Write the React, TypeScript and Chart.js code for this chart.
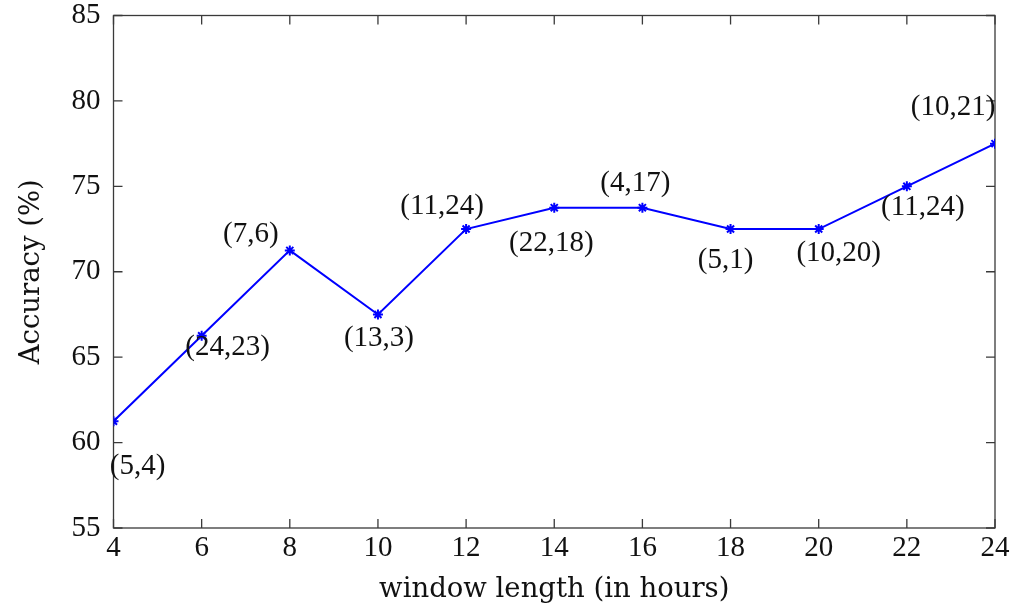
import React, { useEffect, useRef } from "react";
import { Chart, registerables } from "chart.js";

Chart.register(...registerables);

// ---- data ----
const windowHours = [4, 6, 8, 10, 12, 14, 16, 18, 20, 22, 24];
const accuracy = [61.25, 66.25, 71.25, 67.5, 72.5, 73.75, 73.75, 72.5, 72.5, 75, 77.5];
const pointLabels = ["(5,4)", "(24,23)", "(7,6)", "(13,3)", "(11,24)", "(22,18)", "(4,17)", "(5,1)", "(10,20)", "(11,24)", "(10,21)"];
const xTicks = [4, 6, 8, 10, 12, 14, 16, 18, 20, 22, 24];
const yTicks = [55, 60, 65, 70, 75, 80, 85];
const xTitle = "window length (in hours)";
const yTitle = "Accuracy (%)";

// label placement offsets (style, in px relative to each point)
const labelOffsets: [number, number][] = [
  [24, 45], [26, 12], [-39, -16], [1, 24], [-24, -23], [-3, 36],
  [-7, -24], [-5, 31], [20, 24], [16, 21], [-42, -36],
];

const NUM_FONT = "Liberation Serif";
const TITLE_FONT = "DejaVu Serif";
const AXIS_COLOR = "#3a3a3a";

const framePlugin = {
  id: "frameTicks",
  beforeDatasetsDraw(chart: any) {
    const { ctx, chartArea } = chart;
    const { left, right, top, bottom } = chartArea;
    const xs = chart.scales.x;
    const ys = chart.scales.y;
    const tl = 9;
    ctx.save();
    ctx.strokeStyle = AXIS_COLOR;
    ctx.lineWidth = 1.3;
    ctx.beginPath();
    for (const v of xTicks) {
      const px = xs.getPixelForValue(v);
      ctx.moveTo(px, bottom);
      ctx.lineTo(px, bottom - tl);
      ctx.moveTo(px, top);
      ctx.lineTo(px, top + tl);
    }
    for (const v of yTicks) {
      const py = ys.getPixelForValue(v);
      ctx.moveTo(left, py);
      ctx.lineTo(left + tl, py);
      ctx.moveTo(right, py);
      ctx.lineTo(right - tl, py);
    }
    ctx.stroke();
    ctx.strokeRect(left, top, right - left, bottom - top);
    ctx.restore();
  },
};

const labelPlugin = {
  id: "pointLabels",
  afterDatasetsDraw(chart: any) {
    const { ctx } = chart;
    const meta = chart.getDatasetMeta(0);
    ctx.save();
    ctx.font = `29px "${NUM_FONT}"`;
    ctx.fillStyle = "#111";
    ctx.textAlign = "center";
    ctx.textBaseline = "middle";
    meta.data.forEach((el: any, i: number) => {
      const [dx, dy] = labelOffsets[i];
      ctx.fillText(pointLabels[i], el.x + dx, el.y + dy);
    });
    ctx.restore();
  },
};

export default function App() {
  const ref = useRef<HTMLCanvasElement | null>(null);

  useEffect(() => {
    document.body.style.margin = "0";
    const canvas = ref.current;
    if (!canvas) return;
    const padLeft = 0;
    const padBottom = 0;
    const chart = new Chart(canvas, {
      type: "line",
      data: {
        datasets: [
          {
            data: windowHours.map((h, i) => ({ x: h, y: accuracy[i] })),
            borderColor: "#0000ff",
            backgroundColor: "#0000ff",
            borderWidth: 2,
            pointStyle: "star",
            pointRadius: 5,
            pointBorderWidth: 2,
            pointBorderColor: "#0000ff",
            tension: 0,
            fill: false,
          },
        ],
      },
      options: {
        animation: false,
        responsive: true,
        maintainAspectRatio: false,
        layout: { padding: { top: 15.5, right: 17, left: padLeft, bottom: padBottom } },
        plugins: { legend: { display: false }, tooltip: { enabled: false } },
        scales: {
          x: {
            type: "linear",
            min: 4,
            max: 24,
            afterBuildTicks: (s: any) => {
              s.ticks = xTicks.map((v) => ({ value: v }));
            },
            afterFit: (s: any) => {
              s.height = 610 - padBottom - 528;
              s.paddingLeft = 0;
              s.paddingRight = 0;
            },
            grid: { display: false, drawTicks: false },
            border: { display: false },
            ticks: {
              color: "#111",
              padding: 6,
              maxRotation: 0,
              autoSkip: false,
              font: { family: NUM_FONT, size: 29, lineHeight: 1 },
            },
            title: {
              display: true,
              text: xTitle,
              color: "#111",
              padding: { top: 0, bottom: 4 },
              font: { family: TITLE_FONT, size: 27.5, lineHeight: 1.2 },
            },
          },
          y: {
            type: "linear",
            min: 55,
            max: 85,
            afterBuildTicks: (s: any) => {
              s.ticks = yTicks.map((v) => ({ value: v }));
            },
            afterFit: (s: any) => {
              s.width = 113.5 - padLeft;
              s.paddingTop = 0;
              s.paddingBottom = 0;
            },
            grid: { display: false, drawTicks: false },
            border: { display: false },
            ticks: {
              color: "#111",
              padding: 13,
              autoSkip: false,
              font: { family: NUM_FONT, size: 29, lineHeight: 1 },
            },
            title: {
              display: true,
              text: yTitle,
              color: "#111",
              padding: { top: 15, bottom: 0 },
              font: { family: TITLE_FONT, size: 27.5, lineHeight: 1.2 },
            },
          },
        },
      },
      plugins: [framePlugin, labelPlugin],
    });
    return () => chart.destroy();
  }, []);

  return (
    <div style={{ width: 1012, height: 610, position: "relative", background: "#fff" }}>
      <canvas ref={ref} />
    </div>
  );
}
